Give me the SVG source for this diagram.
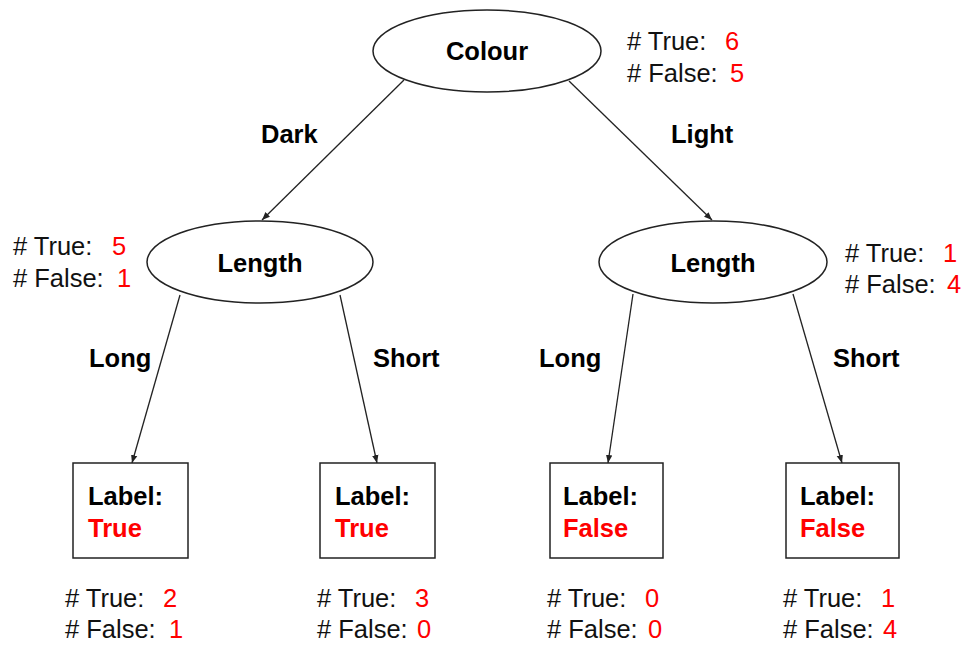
<svg xmlns="http://www.w3.org/2000/svg" width="969" height="649" viewBox="0 0 969 649">
<defs>
<marker id="arr" viewBox="0 0 10 10" refX="10" refY="5" markerWidth="8" markerHeight="8" markerUnits="userSpaceOnUse" orient="auto">
<path d="M0,1 L10,5 L0,9 Z" fill="#222"/>
</marker>
<style>
.shape{fill:#fff;stroke:#222;stroke-width:1.5}
.edge{stroke:#222;stroke-width:1.3;fill:none;marker-end:url(#arr)}
.b{font-family:"Liberation Sans",Arial,sans-serif;font-weight:bold;font-size:25.5px;fill:#000}
.r{font-family:"Liberation Sans",Arial,sans-serif;font-size:25.5px;fill:#111}
.red{fill:#f00}
</style>
</defs>
<rect width="969" height="649" fill="#fff"/>
<g id="connectors">
<line class="edge" x1="404" y1="80" x2="262" y2="220"/>
<line class="edge" x1="569" y1="81" x2="712" y2="220"/>
<line class="edge" x1="180" y1="295" x2="132" y2="463"/>
<line class="edge" x1="340" y1="295" x2="377" y2="463"/>
<line class="edge" x1="633" y1="294" x2="608" y2="463"/>
<line class="edge" x1="793" y1="294" x2="842" y2="463"/>
<text class="b" x="261" y="143">Dark</text>
<text class="b" x="671" y="143">Light</text>
<text class="b" x="89" y="367">Long</text>
<text class="b" x="373" y="367">Short</text>
<text class="b" x="539" y="367">Long</text>
<text class="b" x="833" y="367">Short</text>
</g>
<g id="colour">
<ellipse class="shape" cx="487" cy="51" rx="114" ry="41"/>
<text class="b" x="487" y="60" text-anchor="middle">Colour</text>
<text class="r" x="627" y="50"># True:<tspan class="red" x="725">6</tspan></text>
<text class="r" x="627" y="82"># False:<tspan class="red" x="730">5</tspan></text>
</g>
<g id="length-left">
<ellipse class="shape" cx="260" cy="262" rx="113" ry="41"/>
<text class="b" x="260" y="272" text-anchor="middle">Length</text>
<text class="r" x="13" y="255"># True:<tspan class="red" x="112">5</tspan></text>
<text class="r" x="13" y="287"># False:<tspan class="red" x="117">1</tspan></text>
</g>
<g id="length-right">
<ellipse class="shape" cx="713" cy="262" rx="114" ry="41"/>
<text class="b" x="713" y="272" text-anchor="middle">Length</text>
<text class="r" x="845" y="262"># True:<tspan class="red" x="943">1</tspan></text>
<text class="r" x="845" y="293"># False:<tspan class="red" x="947">4</tspan></text>
</g>
<g id="leaf1">
<rect class="shape" x="73" y="463" width="115" height="95"/>
<text class="b" x="88" y="505">Label:</text>
<text class="b red" x="88" y="537">True</text>
<text class="r" x="65" y="607"># True:<tspan class="red" x="163">2</tspan></text>
<text class="r" x="65" y="638"># False:<tspan class="red" x="169">1</tspan></text>
</g>
<g id="leaf2">
<rect class="shape" x="320" y="463" width="115" height="95"/>
<text class="b" x="335" y="505">Label:</text>
<text class="b red" x="335" y="537">True</text>
<text class="r" x="317" y="607"># True:<tspan class="red" x="415">3</tspan></text>
<text class="r" x="317" y="638"># False:<tspan class="red" x="417">0</tspan></text>
</g>
<g id="leaf3">
<rect class="shape" x="550" y="463" width="113" height="95"/>
<text class="b" x="563" y="505">Label:</text>
<text class="b red" x="563" y="537">False</text>
<text class="r" x="547" y="607"># True:<tspan class="red" x="645">0</tspan></text>
<text class="r" x="547" y="638"># False:<tspan class="red" x="648">0</tspan></text>
</g>
<g id="leaf4">
<rect class="shape" x="786" y="463" width="113" height="95"/>
<text class="b" x="800" y="505">Label:</text>
<text class="b red" x="800" y="537">False</text>
<text class="r" x="783" y="607"># True:<tspan class="red" x="881">1</tspan></text>
<text class="r" x="783" y="638"># False:<tspan class="red" x="883">4</tspan></text>
</g>
</svg>
